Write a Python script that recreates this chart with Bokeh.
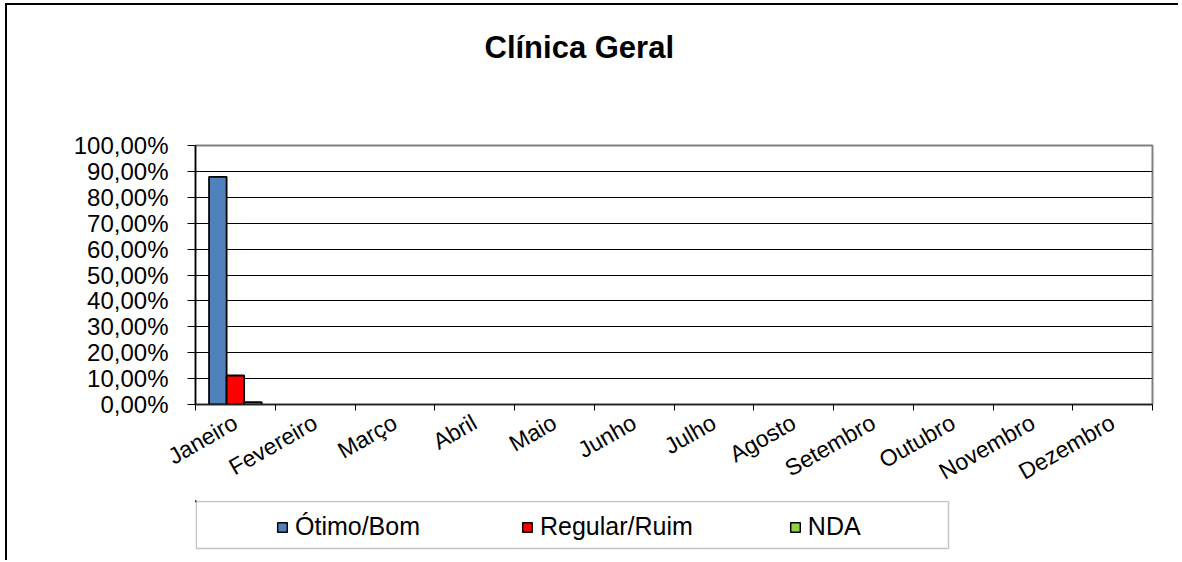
from bokeh.plotting import figure
from bokeh.layouts import column
from bokeh.models import (Range1d, FixedTicker, Legend, LegendItem, BoxAnnotation,
                          Title, ColumnDataSource)
from bokeh.embed import file_html
from bokeh.resources import INLINE

# ---- data ----
months = ["Janeiro", "Fevereiro", "Março", "Abril", "Maio", "Junho", "Julho",
          "Agosto", "Setembro", "Outubro", "Novembro", "Dezembro"]
otimo_bom = [87.9] + [None] * 11
regular_ruim = [11.2] + [None] * 11
nda = [0.9] + [None] * 11
series_names = ["Ótimo/Bom", "Regular/Ruim", "NDA"]
series_colors = ["#4F81BD", "#FF0000", "#92D050"]
y_ticks = [0, 10, 20, 30, 40, 50, 60, 70, 80, 90, 100]
y_tick_labels = ["0,00%", "10,00%", "20,00%", "30,00%", "40,00%", "50,00%",
                 "60,00%", "70,00%", "80,00%", "90,00%", "100,00%"]
title_text = "Clínica Geral"

FONT = "Liberation Sans"
W = 1173
BORDER = "2px solid black"

# ---------- title strip ----------
ft = figure(width=W, height=75, output_backend="svg", toolbar_location=None,
            x_axis_type=None, y_axis_type=None, min_border_left=0,
            min_border_right=0, min_border_top=72, min_border_bottom=0,
            outline_line_color=None, margin=(3, 0, 0, 5))
ft.styles = {"border-left": BORDER, "border-top": BORDER}
ft.title = Title(text=title_text, align="left", offset=289, standoff=26,
                 text_font=FONT, text_font_size="31px", text_font_style="bold",
                 text_color="black")

# ---------- main chart ----------
p = figure(width=W, height=422, output_backend="svg", toolbar_location=None,
           x_range=Range1d(-0.5, len(months) - 0.5), y_range=Range1d(0, 100),
           min_border_left=188, min_border_right=28, min_border_top=67,
           min_border_bottom=96, background_fill_color="white",
           border_fill_color="white", margin=(0, 0, 0, 5))
p.styles = {"border-left": BORDER}

bar_w = 0.22
offsets = [-0.22, 0.0, 0.22]
series = [otimo_bom, regular_ruim, nda]
for vals, off, col in zip(series, offsets, series_colors):
    src = ColumnDataSource(dict(
        x=[i + off for i in range(len(months))],
        top=[float("nan") if v is None else v for v in vals]))
    p.vbar(x="x", top="top", bottom=0, width=bar_w, source=src,
           fill_color=col, line_color="black", line_width=1.8)

xa = p.xaxis[0]
xa.ticker = FixedTicker(ticks=list(range(len(months))),
                        minor_ticks=[i - 0.5 for i in range(len(months) + 1)])
xa.major_label_overrides = {i: m for i, m in enumerate(months)}
xa.major_tick_line_color = None
xa.major_tick_out = 6
xa.major_tick_in = 0
xa.minor_tick_line_color = "black"
xa.minor_tick_in = 0
xa.minor_tick_out = 6
xa.axis_line_color = "#222222"
xa.axis_line_width = 1.5
xa.major_label_orientation = 0.52
xa.major_label_standoff = 10
xa.major_label_text_font = FONT
xa.major_label_text_font_size = "23px"
xa.major_label_text_color = "black"

ya = p.yaxis[0]
ya.ticker = FixedTicker(ticks=y_ticks)
ya.major_label_overrides = {t: l for t, l in zip(y_ticks, y_tick_labels)}
ya.major_tick_in = 0
ya.major_tick_out = 8
ya.major_tick_line_color = "black"
ya.minor_tick_line_color = None
ya.axis_line_color = "black"
ya.axis_line_width = 1.5
ya.major_label_standoff = 19
ya.major_label_text_font = FONT
ya.major_label_text_font_size = "24px"
ya.major_label_text_color = "black"

p.xgrid.visible = False
p.ygrid.ticker = FixedTicker(ticks=y_ticks[1:-1])
p.ygrid.grid_line_color = "black"
p.ygrid.grid_line_width = 1.2
p.outline_line_color = "#808080"
p.outline_line_width = 2

# ---------- legend strip (frame aligned with the chart frame) ----------
LH = 60
FRAME_W = 957
fl = figure(width=W, height=LH, output_backend="svg", toolbar_location=None,
            x_range=Range1d(0, FRAME_W), y_range=Range1d(LH, 0),
            x_axis_type=None, y_axis_type=None, min_border=0,
            outline_line_color=None, margin=(0, 0, 0, 5))
fl.styles = {"border-left": BORDER}
fl.grid.visible = False
items = []
for name, col in zip(series_names, series_colors):
    # legend swatch source: a single bar placed outside the visible range
    r = fl.vbar(x=[-1000], top=[1], bottom=[0], width=1, fill_color=col,
                line_color="black", line_width=1.5)
    items.append(LegendItem(label=name, renderers=[r]))
legend = Legend(items=items, orientation="horizontal", location=(81, 19),
                padding=0, margin=0, spacing=96, label_width=130,
                glyph_width=12, glyph_height=12, label_standoff=7,
                border_line_color=None, background_fill_alpha=0,
                label_text_font=FONT, label_text_font_size="25px",
                label_text_color="black")
fl.add_layout(legend, "center")
fl.add_layout(BoxAnnotation(left=0.75, right=753, top=1, bottom=48,
                            fill_alpha=0, line_color="#404040", line_width=1.5))

layout = column(ft, p, fl, spacing=0)
open("out.html", "w").write(file_html(layout, INLINE))
